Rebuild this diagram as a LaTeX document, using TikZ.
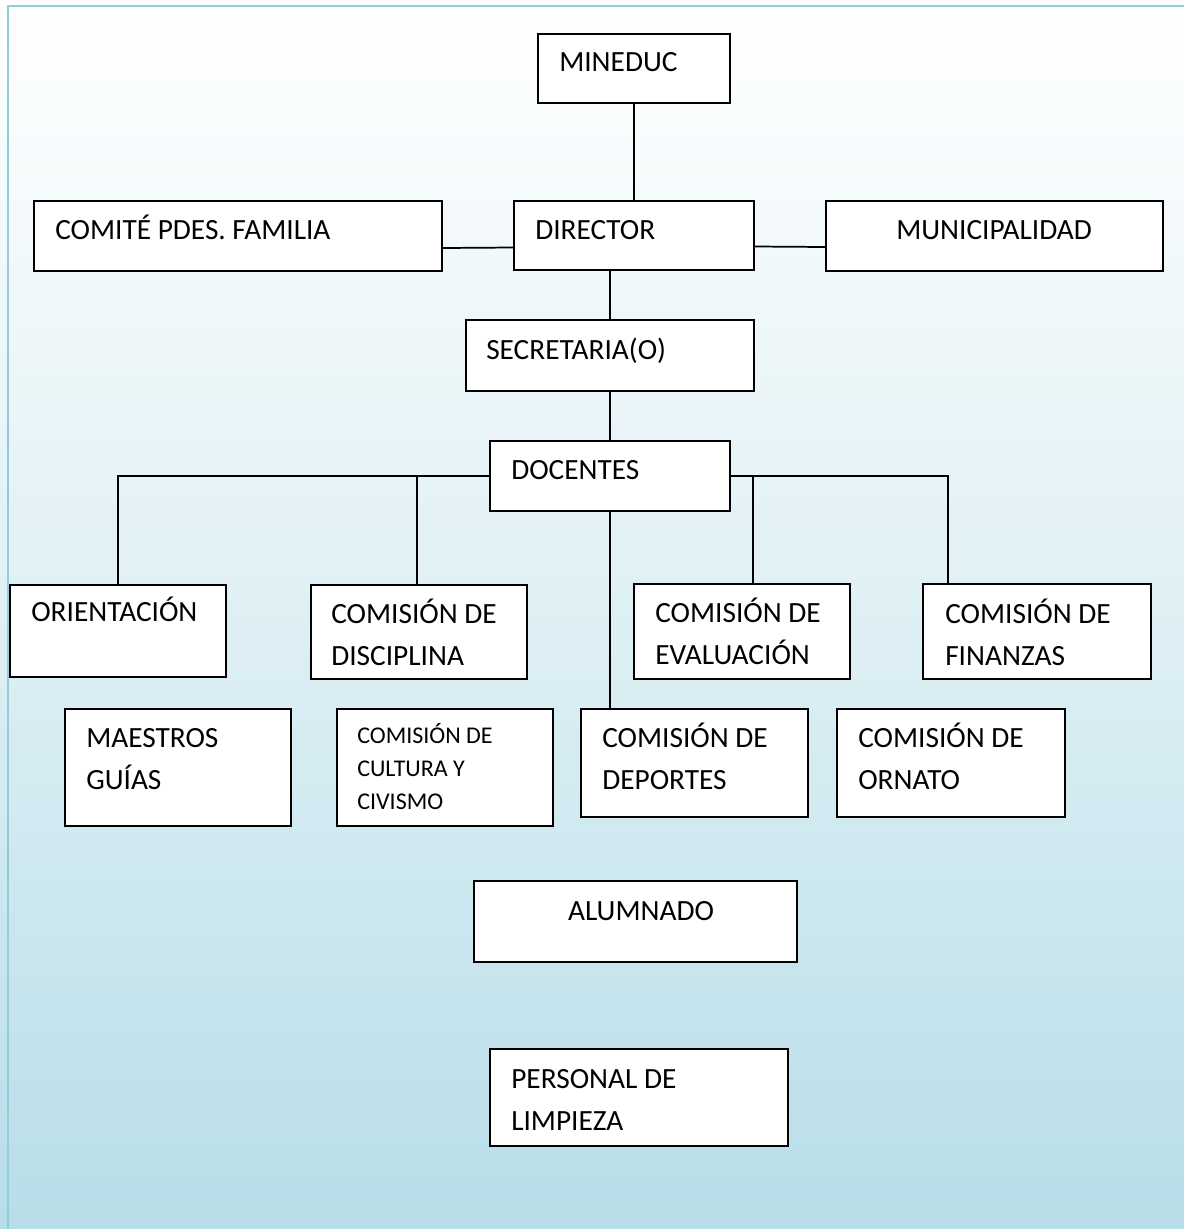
\documentclass[tikz,border=0pt]{standalone}
\usepackage{fontspec}
\setmainfont{Carlito}
\usetikzlibrary{fit, calc}
\definecolor{fondo}{HTML}{B7DDE8}
\definecolor{marco}{HTML}{92CDDC}
\newcommand{\letra}{\fontsize{22}{31.5}\selectfont}
\newcommand{\letrachica}{\fontsize{18}{24.75}\selectfont}

\begin{document}
\begin{tikzpicture}[
    x=0.75pt, y=-0.75pt,
    caja/.style = {rectangle, draw, fill=white, line width=1.7pt, inner sep=0pt},
    texto/.style = {anchor=base west, inner sep=0pt, align=left, font=\letra},
    linea/.style = {black, line width=1.3pt},
    ]
  \useasboundingbox (0,0) rectangle (1184,1229);
  \shade[top color=white, bottom color=fondo, middle color=fondo!45] (0,0) rectangle (1184,1229);
  \draw[marco, line width=2.2pt] (8,1240) -- (8,6) -- (1195,6);

  \node[caja, fit={(538,34) (730,103)}] (mineduc) {};
  \node[caja, fit={(514,201) (754,270)}] (director) {};
  \node[caja, fit={(34,201) (442,271)}] (comite) {};
  \node[caja, fit={(826,201) (1163,271)}] (muni) {};
  \node[caja, fit={(466,320) (754,391)}] (secre) {};
  \node[caja, fit={(490,441) (730,511)}] (docentes) {};
  \node[caja, fit={(10,585) (226,677)}] (orient) {};
  \node[caja, fit={(311,585) (527,679)}] (discip) {};
  \node[caja, fit={(634,584) (850,679)}] (evalua) {};
  \node[caja, fit={(923,584) (1151,679)}] (finanzas) {};
  \node[caja, fit={(65,709) (291,826)}] (maestros) {};
  \node[caja, fit={(337,709) (553,826)}] (cultura) {};
  \node[caja, fit={(581,709) (808,817)}] (deportes) {};
  \node[caja, fit={(837,709) (1065,817)}] (ornato) {};
  \node[caja, fit={(474,881) (797,962)}] (alumnado) {};
  \node[caja, fit={(490,1049) (788,1146)}] (limpieza) {};

  % base = last line
  \node[texto] (t-mineduc) at (559,71) {MINEDUC};
  \node[texto] (t-director) at (535,239) {DIRECTOR};
  \node[texto] (t-comite) at (55,239) {COMITÉ PDES. FAMILIA};
  \node[texto] (t-muni) at (896,239) {MUNICIPALIDAD};
  \node[texto] (t-secre) at (486,359) {SECRETARIA(O)};
  \node[texto] (t-docentes) at (511,479) {DOCENTES};
  \node[texto] (t-orient) at (31,621) {ORIENTACIÓN};
  \node[texto] (t-discip) at (331,665) {COMISIÓN DE\\DISCIPLINA};
  \node[texto] (t-evalua) at (655,664) {COMISIÓN DE\\EVALUACIÓN};
  \node[texto] (t-finanzas) at (945,665) {COMISIÓN DE\\FINANZAS};
  \node[texto] (t-maestros) at (86,789) {MAESTROS\\GUÍAS};
  \node[texto, font=\letrachica] (t-cultura) at (357,809) {COMISIÓN DE\\CULTURA Y\\CIVISMO};
  \node[texto] (t-deportes) at (602,789) {COMISIÓN DE\\DEPORTES};
  \node[texto] (t-ornato) at (858,789) {COMISIÓN DE\\ORNATO};
  \node[texto, anchor=base] (t-alumnado) at (641,920) {ALUMNADO};
  \node[texto] (t-limpieza) at (511,1130) {PERSONAL DE\\LIMPIEZA};

  \draw[linea] (mineduc.south) -- (director.north);
  \draw[linea] ($(comite.east)+(0,12)$) -- ($(director.west)+(0,12)$);
  \draw[linea] ($(director.east)+(0,11)$) -- ($(muni.west)+(0,11)$);
  \draw[linea] (director.south -| secre.north) -- (secre.north);
  \draw[linea] (secre.south) -- (secre.south |- docentes.north);
  \draw[linea] (docentes.west) -| (orient.north);
  \draw[linea] ($(discip.north)+(-2,0)$) -- ($(discip.north |- docentes.west)+(-2,0)$);
  \draw[linea] (docentes.east) -| ($(finanzas.north west)+(26,0)$);
  \draw[linea] ($(evalua.north west)+(120,0)$) -- ($(evalua.north west |- docentes.east)+(120,0)$);
  \draw[linea] (docentes.south) -- (docentes.south |- deportes.north);
\end{tikzpicture}
\end{document}
